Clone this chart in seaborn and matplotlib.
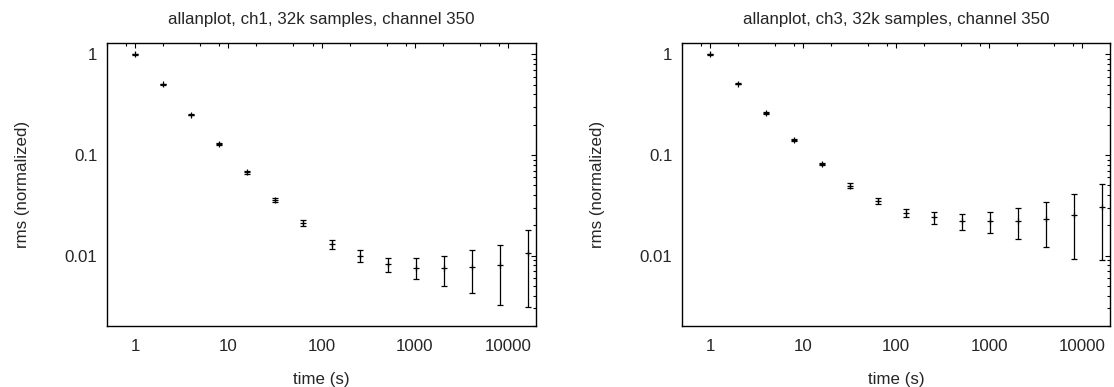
import matplotlib
matplotlib.use("Agg")
import matplotlib.pyplot as plt
import matplotlib.ticker as mticker
import seaborn as sns
import numpy as np
import pandas as pd

# ---- data ----
time_s = [1, 2, 4, 8, 16, 32, 64, 128, 256, 512, 1024, 2048, 4096, 8192, 16384]

ch1_rms = [1.0, 0.503, 0.252, 0.128, 0.0673, 0.0358, 0.0211, 0.0131, 0.00995,
           0.0082, 0.0076, 0.0075, 0.0078, 0.0080, 0.0106]
ch1_err = [0.008, 0.006, 0.004, 0.003, 0.0018, 0.0019, 0.00155, 0.00133, 0.00135,
           0.00136, 0.00179, 0.0025, 0.0035, 0.0048, 0.0075]

ch3_rms = [1.0, 0.512, 0.262, 0.141, 0.0811, 0.0497, 0.0349, 0.0268, 0.0240,
           0.0222, 0.0219, 0.0221, 0.0232, 0.0251, 0.0306]
ch3_err = [0.008, 0.006, 0.004, 0.0025, 0.002, 0.0025, 0.0024, 0.0024, 0.0032,
           0.0040, 0.0052, 0.0074, 0.0109, 0.0159, 0.0215]

titles = ["allanplot, ch1, 32k samples, channel 350",
          "allanplot, ch3, 32k samples, channel 350"]
xlabel = "time (s)"
ylabel = "rms (normalized)"
xticks = [1, 10, 100, 1000, 10000]
xtick_labels = ["1", "10", "100", "1000", "10000"]
yticks = [0.01, 0.1, 1]
ytick_labels = ["0.01", "0.1", "1"]

FS = 12.2

sns.set_style("white")
plt.rcParams['font.family'] = ['Liberation Sans', 'DejaVu Sans']
plt.rcParams['font.size'] = FS

fig = plt.figure(figsize=(11.14, 3.87), dpi=100)
ax1 = fig.add_axes([0.0961, 0.1576, 0.3851, 0.7313])
ax2 = fig.add_axes([0.6125, 0.1576, 0.3839, 0.7313])

for ax, rms, err, title in [(ax1, ch1_rms, ch1_err, titles[0]),
                            (ax2, ch3_rms, ch3_err, titles[1])]:
    df = pd.DataFrame({"time": time_s, "rms": rms, "err": err})
    ax.errorbar(df["time"], df["rms"], yerr=df["err"], fmt="none",
                ecolor="black", elinewidth=0.9, capsize=2.0, capthick=0.9)
    sns.scatterplot(data=df, x="time", y="rms", ax=ax, marker="+",
                    color="black", s=22, linewidth=0.9, legend=False)
    ax.set_xscale("log")
    ax.set_yscale("log")
    ax.set_xlim(0.5, 20000)
    ax.set_ylim(0.002, 1.3)
    ax.set_xticks(xticks)
    ax.set_xticklabels(xtick_labels)
    ax.set_yticks(yticks)
    ax.set_yticklabels(ytick_labels)
    ax.xaxis.set_minor_locator(mticker.LogLocator(base=10, subs=[2.0, 5.0, 8.0], numticks=20))
    ax.yaxis.set_minor_locator(mticker.LogLocator(base=10, subs=np.arange(2, 10), numticks=20))
    ax.xaxis.set_minor_formatter(mticker.NullFormatter())
    ax.yaxis.set_minor_formatter(mticker.NullFormatter())
    ax.tick_params(which="both", direction="in", top=True, right=True,
                   color="black", width=0.8)
    ax.tick_params(which="major", length=3.8, labelsize=FS)
    ax.tick_params(axis="x", which="major", pad=9)
    ax.tick_params(axis="y", which="major", pad=7)
    ax.tick_params(which="minor", length=2.0)
    for sp in ax.spines.values():
        sp.set_color("black")
        sp.set_linewidth(1.0)
        sp.set_visible(True)
    ax.set_title(title, fontsize=FS, pad=14)
    ax.set_xlabel(xlabel, fontsize=FS, labelpad=13)
    ax.set_ylabel(ylabel, fontsize=FS, labelpad=25)

fig.savefig("out.png", dpi=100)
